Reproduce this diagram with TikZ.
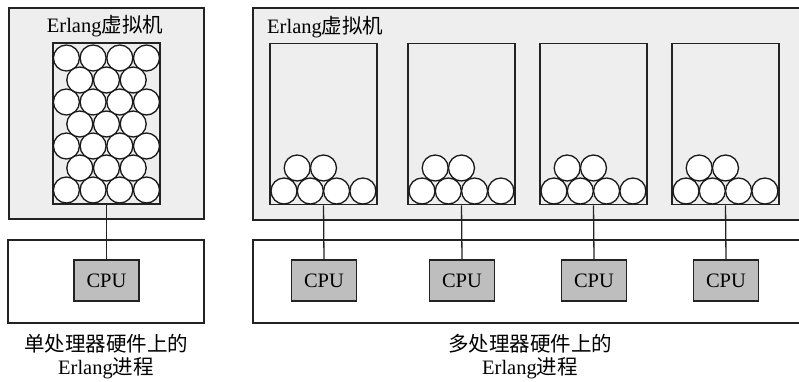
\documentclass[tikz,border=0pt]{standalone}
\usepackage{fontspec}
\setmainfont{Liberation Serif}
\newfontfamily\cjk{Noto Sans CJK SC}
\usetikzlibrary{positioning}
\definecolor{vmfill}{RGB}{238,238,238}
\definecolor{cpufill}{RGB}{190,190,190}
\definecolor{edgeclr}{RGB}{35,35,35}
\tikzset{
  %% virtual machine frame
  vmbox/.style={draw=edgeclr,fill=vmfill,line width=1.4pt},
  %% hardware frame
  hwbox/.style={draw=edgeclr,fill=white,line width=1.3pt},
  %% process pool inside a VM
  poolbox/.style={rectangle,draw=edgeclr,fill=vmfill,line width=1.5pt,
    minimum width=107pt,minimum height=161pt,inner sep=0pt},
  %% single erlang process
  proc/.style={circle,draw=black!90,fill=white,line width=1.3pt,
    minimum size=26pt,inner sep=0pt},
  %% processor
  cpu/.style={rectangle,draw=edgeclr,fill=cpufill,line width=1.3pt,
    minimum width=65pt,minimum height=41pt,inner sep=0pt,
    font=\fontsize{20.5}{23}\selectfont},
  lbl/.style={font=\fontsize{20.5}{23}\selectfont,align=center,inner sep=0pt},
  wire/.style={line width=1.3pt,color=edgeclr},
}

\begin{document}
\begin{tikzpicture}[x=1pt,y=-1pt]
  \useasboundingbox (0,0) rectangle (799,381);
  \clip (0,0) rectangle (799,381);

  %% ── single processor ─────────────────────────────────────────────
  \draw[vmbox] (9,8) rectangle (204,219);
  \node[lbl] (vmA) at (105,26) {Erlang{\cjk 虚拟机}};
  \node[poolbox] (poolA) at (106.5,123.5) {};

  %% rows of four and rows of three, staggered
  \foreach \r in {0,2,4,6}
    \foreach \i in {0,...,3}
      \node[proc] (pA-\r-\i) at (66.4+26.7*\i,58+22*\r) {};
  \foreach \r in {1,3,5}
    \foreach \i in {0,1,2}
      \node[proc] (pA-\r-\i) at (79.8+26.7*\i,58+22*\r) {};

  \draw[hwbox] (8,240) rectangle (204,323);
  \node[cpu] (cpuA) at (106.5,280.5) {CPU};
  \draw[wire] (poolA.south) -- (cpuA.north);

  \node[lbl] (capA) at (106,356.5) {{\cjk 单处理器硬件上的}\\Erlang{\cjk 进程}};

  %% ── multi processor (frames run off the right edge) ──────────────
  \draw[vmbox] (253,8) rectangle (812,220);
  \node[lbl,anchor=west] (vmB) at (267,27) {Erlang{\cjk 虚拟机}};
  \draw[hwbox] (253,240) rectangle (812,323);

  \foreach \bx [count=\k] in {270,408,540,672} {
    \node[poolbox] (poolB\k) at (\bx+53.5,124) {};
    \foreach \i in {0,...,3}
      \node[proc] (pB\k-0-\i) at (\bx+14+26.3*\i,191) {};
    \foreach \i in {0,1}
      \node[proc] (pB\k-1-\i) at (\bx+27.2+26.3*\i,168) {};
    \node[cpu] (cpuB\k) at (\bx+54,280.5) {CPU};
    \draw[wire] (poolB\k.south) -- (cpuB\k.north);
  }

  \node[lbl] (capB) at (530,356.5) {{\cjk 多处理器硬件上的}\\Erlang{\cjk 进程}};

\end{tikzpicture}
\end{document}
